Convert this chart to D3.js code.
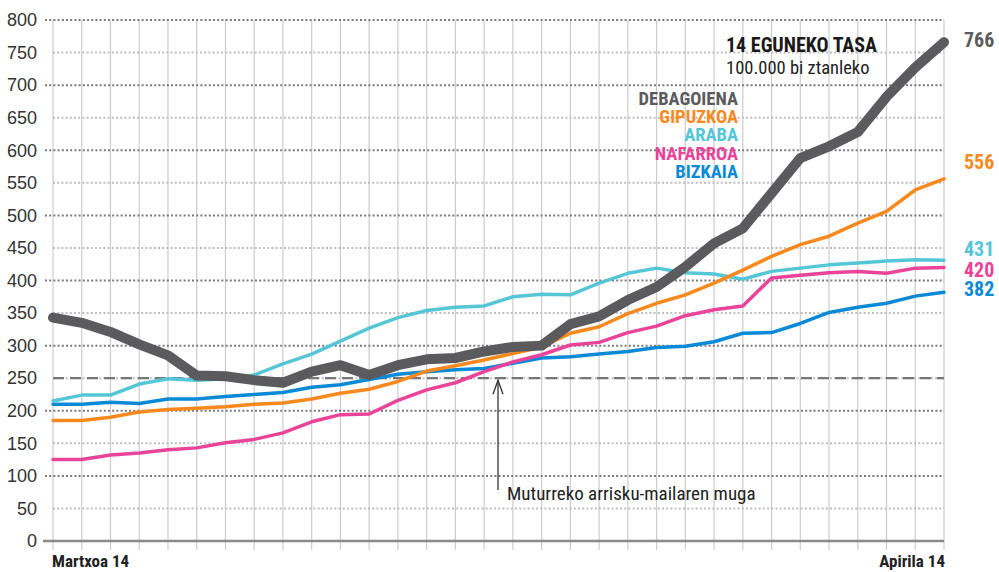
<!DOCTYPE html>
<html>
<head>
<meta charset="utf-8">
<script src="https://cdn.jsdelivr.net/npm/d3@7"></script>
<style>
  body { margin: 0; background: #fff; }
  svg { display: block; font-family: "Liberation Sans Narrow", "Roboto Condensed", "Roboto", sans-serif; }
</style>
</head>
<body>
<svg id="chart" width="999" height="572"></svg>
<script>
// Data (14 eguneko tasa, 100.000 biztanleko)
const days = [
  "03-14", "03-15", "03-16", "03-17", "03-18", "03-19", "03-20", "03-21",
  "03-22", "03-23", "03-24", "03-25", "03-26", "03-27", "03-28", "03-29",
  "03-30", "03-31", "04-01", "04-02", "04-03", "04-04", "04-05", "04-06",
  "04-07", "04-08", "04-09", "04-10", "04-11", "04-12", "04-13", "04-14"
];
const debagoiena = [343, 335, 321, 302, 285, 254, 253, 247, 243, 260, 270, 255, 270, 279, 281, 291,
  298, 300, 333, 345, 370, 390, 421, 457, 480, 534, 588, 606, 628, 682, 727, 766];
const gipuzkoa = [185, 185, 190, 198, 202, 204, 206, 210, 212, 218, 227, 233, 245, 261, 269, 278,
  288, 298, 319, 329, 349, 365, 378, 396, 416, 437, 455, 468, 488, 506, 539, 556];
const araba = [215, 224, 224, 241, 249, 247, 249, 255, 272, 287, 307, 327, 343, 354, 359, 361,
  375, 379, 378, 396, 411, 419, 412, 410, 402, 414, 419, 424, 427, 430, 432, 431];
const nafarroa = [125, 125, 132, 135, 140, 143, 151, 156, 166, 183, 194, 195, 216, 232, 243, 260,
  275, 286, 301, 305, 320, 330, 346, 355, 361, 404, 408, 412, 414, 411, 419, 420];
const bizkaia = [210, 210, 213, 211, 218, 218, 222, 225, 228, 236, 240, 248, 256, 260, 263, 265,
  273, 281, 283, 287, 291, 297, 299, 306, 319, 320, 334, 351, 359, 365, 376, 382];

const yTicks = [0, 50, 100, 150, 200, 250, 300, 350, 400, 450, 500, 550, 600, 650, 700, 750, 800];
const threshold = 250;

const series = [
  { name: "BIZKAIA", values: bizkaia, color: "#0a8ad6", width: 3.5 },
  { name: "NAFARROA", values: nafarroa, color: "#e9449a", width: 3.5 },
  { name: "ARABA", values: araba, color: "#55c6d6", width: 3.5 },
  { name: "GIPUZKOA", values: gipuzkoa, color: "#f7891f", width: 3.5 },
  { name: "DEBAGOIENA", values: debagoiena, color: "#5b5b5d", width: 10 }
];
const legendOrder = ["DEBAGOIENA", "GIPUZKOA", "ARABA", "NAFARROA", "BIZKAIA"];

// Scales
const xScale = d3.scaleLinear().domain([0, days.length - 1]).range([53, 944]);
const yScale = d3.scaleLinear().domain([0, 800]).range([541, 20]);

const svg = d3.select("#chart");

// Vertical grid lines
svg.append("g")
  .selectAll("line")
  .data(days)
  .join("line")
  .attr("x1", (d, i) => xScale(i))
  .attr("x2", (d, i) => xScale(i))
  .attr("y1", yScale(800))
  .attr("y2", 550)
  .attr("stroke", "#cccccc")
  .attr("stroke-width", 1.2);

// Horizontal dotted grid lines
svg.append("g")
  .selectAll("line")
  .data(yTicks.filter((d) => d > 0))
  .join("line")
  .attr("x1", (d) => (d % 100 === 0 ? 45 : 53))
  .attr("x2", 944)
  .attr("y1", (d) => yScale(d))
  .attr("y2", (d) => yScale(d))
  .attr("stroke", (d) => (d % 100 === 0 ? "#7a7a7a" : "#bdbdbd"))
  .attr("stroke-width", 2)
  .attr("stroke-dasharray", "2,2.2");

// Baseline
svg.append("line")
  .attr("x1", 43)
  .attr("x2", 944)
  .attr("y1", yScale(0))
  .attr("y2", yScale(0))
  .attr("stroke", "#8a8a8a")
  .attr("stroke-width", 2.5);

// Y axis labels
const yAxis = d3.axisLeft(yScale).tickValues(yTicks).tickSize(0).tickPadding(0);
const yAxisG = svg.append("g")
  .attr("transform", "translate(37,0)")
  .call(yAxis);
yAxisG.select(".domain").remove();
yAxisG.selectAll("text")
  .attr("font-family", null)
  .attr("font-size", 18)
  .attr("fill", "#333");

// Threshold line
svg.append("line")
  .attr("x1", 53)
  .attr("x2", 944)
  .attr("y1", yScale(threshold))
  .attr("y2", yScale(threshold))
  .attr("stroke", "#777")
  .attr("stroke-width", 2.2)
  .attr("stroke-dasharray", "11,6");

// Series lines
const line = d3.line()
  .x((d, i) => xScale(i))
  .y((d) => yScale(d))
  .curve(d3.curveLinear);

svg.append("g")
  .selectAll("path")
  .data(series)
  .join("path")
  .attr("d", (d) => line(d.values))
  .attr("fill", "none")
  .attr("stroke", (d) => d.color)
  .attr("stroke-width", (d) => d.width)
  .attr("stroke-linejoin", "round")
  .attr("stroke-linecap", "round");

// Arrow annotation
const arrowX = 498;
const arrowG = svg.append("g").attr("stroke", "#333").attr("stroke-width", 1.3).attr("fill", "none");
arrowG.append("line")
  .attr("x1", arrowX).attr("x2", arrowX)
  .attr("y1", yScale(threshold) + 2).attr("y2", 490);
arrowG.append("path")
  .attr("d", `M${arrowX - 5},${yScale(threshold) + 16} L${arrowX},${yScale(threshold) + 2} L${arrowX + 5},${yScale(threshold) + 16}`);

svg.append("text")
  .attr("x", 507)
  .attr("y", 500)
  .attr("font-size", 19)
  .attr("fill", "#222")
  .text("Muturreko arrisku-mailaren muga");

// Title
svg.append("text")
  .attr("x", 726)
  .attr("y", 52)
  .attr("font-size", 20)
  .attr("font-weight", "bold")
  .attr("fill", "#1a1a1a")
  .text("14 EGUNEKO TASA");
svg.append("text")
  .attr("x", 726)
  .attr("y", 74)
  .attr("font-size", 18.5)
  .attr("fill", "#222")
  .text("100.000 bi ztanleko");

// Legend
const byName = new Map(series.map((s) => [s.name, s]));
svg.append("g")
  .selectAll("text")
  .data(legendOrder)
  .join("text")
  .attr("x", 738)
  .attr("y", (d, i) => 105 + i * 18.2)
  .attr("text-anchor", "end")
  .attr("font-size", 18.5)
  .attr("font-weight", "bold")
  .attr("fill", (d) => byName.get(d).color)
  .text((d) => d);

// End value labels
const endLabels = [
  { name: "DEBAGOIENA", y: 40 },
  { name: "GIPUZKOA", y: 162 },
  { name: "ARABA", y: 249 },
  { name: "NAFARROA", y: 270 },
  { name: "BIZKAIA", y: 289 }
];
svg.append("g")
  .selectAll("text")
  .data(endLabels)
  .join("text")
  .attr("x", 964)
  .attr("y", (d) => d.y)
  .attr("dy", "0.35em")
  .attr("font-size", 20)
  .attr("font-weight", "bold")
  .attr("fill", (d) => byName.get(d.name).color)
  .text((d) => {
    const v = byName.get(d.name).values;
    return v[v.length - 1];
  });

// X labels
svg.append("text")
  .attr("x", 52)
  .attr("y", 567)
  .attr("font-size", 17)
  .attr("font-weight", "bold")
  .attr("fill", "#222")
  .text("Martxoa 14");
svg.append("text")
  .attr("x", 945)
  .attr("y", 567)
  .attr("text-anchor", "end")
  .attr("font-size", 17)
  .attr("font-weight", "bold")
  .attr("fill", "#222")
  .text("Apirila 14");
</script>
</body>
</html>
